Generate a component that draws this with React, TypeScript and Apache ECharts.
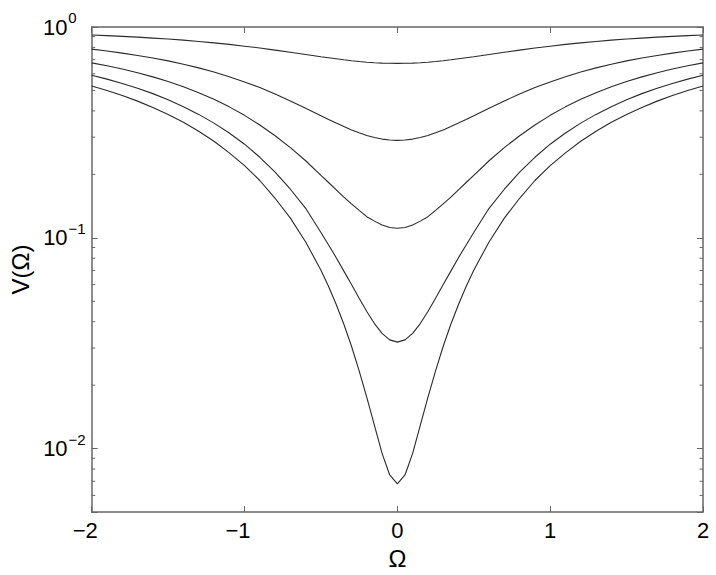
import React, { useEffect, useRef } from "react";
import * as echarts from "echarts";

// Ω sample points
const omega = [
  -2, -1.9, -1.8, -1.7, -1.6, -1.5, -1.4, -1.3, -1.2, -1.1, -1, -0.9, -0.8, -0.7, -0.6, -0.5,
  -0.45, -0.4, -0.35, -0.3, -0.25, -0.2, -0.15, -0.1, -0.05, 0,
  0.05, 0.1, 0.15, 0.2, 0.25, 0.3, 0.35, 0.4, 0.45,
  0.5, 0.6, 0.7, 0.8, 0.9, 1, 1.1, 1.2, 1.3, 1.4, 1.5, 1.6, 1.7, 1.8, 1.9, 2,
];

// V(Ω) curves (top to bottom)
const curve1 = [
  0.917, 0.910, 0.903, 0.895, 0.886, 0.877, 0.866, 0.854, 0.841, 0.827, 0.811, 0.795, 0.777, 0.759, 0.741, 0.723,
  0.715, 0.707, 0.699, 0.692, 0.686, 0.681, 0.677, 0.674, 0.673, 0.672,
  0.673, 0.674, 0.677, 0.681, 0.686, 0.692, 0.699, 0.707, 0.715,
  0.723, 0.741, 0.759, 0.777, 0.795, 0.811, 0.827, 0.841, 0.854, 0.866, 0.877, 0.886, 0.895, 0.903, 0.910, 0.917,
];
const curve2 = [
  0.785, 0.769, 0.752, 0.733, 0.713, 0.691, 0.666, 0.640, 0.612, 0.581, 0.549, 0.516, 0.481, 0.446, 0.412, 0.379,
  0.364, 0.350, 0.337, 0.325, 0.315, 0.306, 0.299, 0.294, 0.291, 0.290,
  0.291, 0.294, 0.299, 0.306, 0.315, 0.325, 0.337, 0.350, 0.364,
  0.379, 0.412, 0.446, 0.481, 0.516, 0.549, 0.581, 0.612, 0.640, 0.666, 0.691, 0.713, 0.733, 0.752, 0.769, 0.785,
];
const curve3 = [
  0.676, 0.655, 0.632, 0.607, 0.580, 0.551, 0.521, 0.488, 0.454, 0.418, 0.381, 0.343, 0.305, 0.268, 0.232, 0.198,
  0.183, 0.169, 0.156, 0.145, 0.135, 0.126, 0.120, 0.115, 0.112, 0.111,
  0.112, 0.115, 0.120, 0.126, 0.135, 0.145, 0.156, 0.169, 0.183,
  0.198, 0.232, 0.268, 0.305, 0.343, 0.381, 0.418, 0.454, 0.488, 0.521, 0.551, 0.580, 0.607, 0.632, 0.655, 0.676,
];
const curve4 = [
  0.590, 0.566, 0.540, 0.512, 0.483, 0.452, 0.419, 0.385, 0.350, 0.314, 0.278, 0.241, 0.205, 0.170, 0.138, 0.106,
  0.0925, 0.0805, 0.0695, 0.0600, 0.0517, 0.0447, 0.0392, 0.0352, 0.0328, 0.0320,
  0.0328, 0.0352, 0.0392, 0.0447, 0.0517, 0.0600, 0.0695, 0.0805, 0.0925,
  0.106, 0.138, 0.170, 0.205, 0.241, 0.278, 0.314, 0.350, 0.385, 0.419, 0.452, 0.483, 0.512, 0.540, 0.566, 0.590,
];
const curve5 = [
  0.525, 0.500, 0.473, 0.445, 0.415, 0.385, 0.353, 0.320, 0.287, 0.253, 0.220, 0.187, 0.154, 0.124, 0.0956, 0.0702,
  0.0588, 0.0483, 0.0389, 0.0306, 0.0234, 0.0175, 0.0129, 0.0095, 0.0075, 0.0068,
  0.0075, 0.0095, 0.0129, 0.0175, 0.0234, 0.0306, 0.0389, 0.0483, 0.0588,
  0.0702, 0.0956, 0.124, 0.154, 0.187, 0.220, 0.253, 0.287, 0.320, 0.353, 0.385, 0.415, 0.445, 0.473, 0.500, 0.525,
];
const curves = [curve1, curve2, curve3, curve4, curve5];

// Axis settings
const xMin = -2;
const xMax = 2;
const xInterval = 1;
const yMin = 0.005;
const yMax = 1;
const minorTickValues = [
  0.006, 0.007, 0.008, 0.009,
  0.02, 0.03, 0.04, 0.05, 0.06, 0.07, 0.08, 0.09,
  0.2, 0.3, 0.4, 0.5, 0.6, 0.7, 0.8, 0.9,
];
const xTitle = "Ω";
const yTitle = "V(Ω)";

const FONT = "'Liberation Sans', Arial, Helvetica, sans-serif";
const AXIS_COLOR = "#666";
const MINUS = "\u2212";

function xLabel(v: number) {
  if (v < 0) return `{n|${MINUS}${Math.abs(v)}}`;
  return `{t|${v}}`;
}

function yLabel(v: number) {
  const l = Math.log10(v);
  const e = Math.round(l);
  if (Math.abs(l - e) > 1e-6) return "";
  if (e < 0) return `{b|10}{s|${MINUS}${-e}}`;
  return `{b|10}{s0|${e}}`;
}

export default function App() {
  const ref = useRef<HTMLDivElement>(null);
  useEffect(() => {
    if (!ref.current) return;
    const chart = echarts.init(ref.current, undefined, { renderer: "svg" });
    const axisLine = { show: true, onZero: false, lineStyle: { color: AXIS_COLOR, width: 1.5 } };
    const axisTick = { show: true, inside: true, length: 6, lineStyle: { color: AXIS_COLOR, width: 1 } };
    const option: any = {
      animation: false,
      backgroundColor: "#fff",
      textStyle: { fontFamily: FONT },
      grid: { left: 83, top: 27, right: 13, bottom: 59, containLabel: false },
      xAxis: [
        {
          type: "value",
          position: "bottom",
          min: xMin,
          max: xMax,
          interval: xInterval,
          axisLine,
          axisTick,
          splitLine: { show: false },
          axisLabel: {
            formatter: xLabel,
            color: "#000",
            margin: 7,
            fontFamily: FONT,
            rich: {
              t: { fontSize: 22, color: "#000", fontFamily: FONT },
              n: { fontSize: 22, color: "#000", fontFamily: FONT, padding: [0, 13, 0, 0] },
            },
          },
          name: xTitle,
          nameLocation: "middle",
          nameGap: 31,
          nameTextStyle: { fontSize: 24, color: "#000", fontFamily: FONT },
        },
        {
          type: "value",
          position: "top",
          min: xMin,
          max: xMax,
          interval: xInterval,
          axisLine,
          axisTick,
          splitLine: { show: false },
          axisLabel: { show: false },
        },
      ],
      yAxis: [
        {
          type: "log",
          logBase: 10,
          position: "left",
          min: yMin,
          max: yMax,
          axisLine,
          axisTick,
          splitLine: { show: false },
          minorTick: { show: false },
          axisLabel: {
            formatter: yLabel,
            margin: 6,
            color: "#000",
            fontFamily: FONT,
            rich: {
              b: { fontSize: 22, color: "#000", fontFamily: FONT },
              s: { fontSize: 15, color: "#000", fontFamily: FONT, padding: [0, 0, 19, 1] },
              s0: { fontSize: 15, color: "#000", fontFamily: FONT, padding: [0, 9, 19, 1] },
            },
          },
          name: yTitle,
          nameLocation: "middle",
          nameGap: 51,
          nameTextStyle: { fontSize: 24, color: "#000", fontFamily: FONT },
        },
        {
          type: "log",
          logBase: 10,
          position: "right",
          min: yMin,
          max: yMax,
          axisLine,
          axisTick,
          splitLine: { show: false },
          axisLabel: { show: false },
        },
      ],
      series: [
        ...curves.map((c, i) => ({
          type: "line",
          name: "curve" + (i + 1),
          xAxisIndex: 0,
          yAxisIndex: 0,
          data: omega.map((x, j) => [x, c[j]]),
          showSymbol: false,
          symbol: "none",
          smooth: false,
          lineStyle: { color: "#2a2a2a", width: 1.1 },
          silent: true,
        })),
        {
          type: "custom",
          name: "minorTicks",
          xAxisIndex: 0,
          yAxisIndex: 0,
          silent: true,
          clip: false,
          data: minorTickValues.map((v) => [xMin, v]),
          renderItem: (_params: any, api: any) => {
            const v = api.value(1);
            const pl = api.coord([xMin, v]);
            const pr = api.coord([xMax, v]);
            const style = { stroke: AXIS_COLOR, lineWidth: 1 };
            return {
              type: "group",
              children: [
                { type: "line", shape: { x1: pl[0], y1: pl[1], x2: pl[0] + 3.5, y2: pl[1] }, style },
                { type: "line", shape: { x1: pr[0] - 3.5, y1: pr[1], x2: pr[0], y2: pr[1] }, style },
              ],
            };
          },
        },
      ],
    };
    chart.setOption(option);
    return () => chart.dispose();
  }, []);
  return (
    <div
      ref={ref}
      style={{ position: "absolute", left: 0, top: 0, width: 716, height: 575, background: "#fff" }}
    />
  );
}
